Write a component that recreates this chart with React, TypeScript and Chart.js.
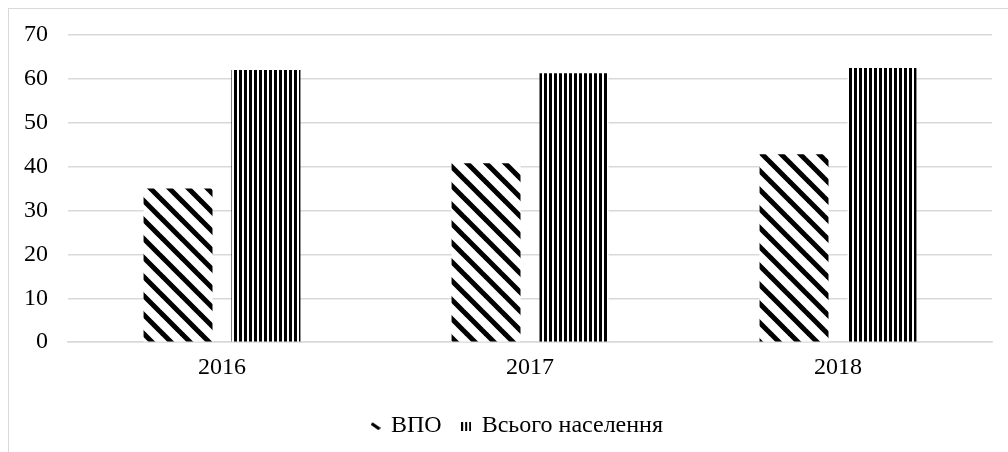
import React, { useEffect, useRef } from "react";
import { Chart, registerables } from "chart.js";

Chart.register(...registerables);

const categories = ["2016", "2017", "2018"];
const vpoValues = [35, 40.8, 42.8];
const totalValues = [62, 61.3, 62.5];
const seriesNames = ["ВПО", "Всього населення"];
const yTicks = [0, 10, 20, 30, 40, 50, 60, 70];

function diagonalPattern(): CanvasPattern | string {
  const size = 19;
  const c = document.createElement("canvas");
  c.width = size;
  c.height = size;
  const ctx = c.getContext("2d");
  if (!ctx) return "#000";
  ctx.fillStyle = "#fff";
  ctx.fillRect(0, 0, size, size);
  ctx.strokeStyle = "#000";
  ctx.lineWidth = 5;
  ctx.lineCap = "square";
  for (let k = -1; k <= 1; k++) {
    ctx.beginPath();
    ctx.moveTo(k * size - 2, -2);
    ctx.lineTo(k * size + size + 2, size + 2);
    ctx.stroke();
  }
  const p = ctx.createPattern(c, "repeat");
  return p || "#000";
}

function verticalPattern(): CanvasPattern | string {
  const c = document.createElement("canvas");
  c.width = 5;
  c.height = 5;
  const ctx = c.getContext("2d");
  if (!ctx) return "#000";
  ctx.fillStyle = "#fff";
  ctx.fillRect(0, 0, 5, 5);
  ctx.fillStyle = "#000";
  ctx.fillRect(0, 0, 3, 5);
  const p = ctx.createPattern(c, "repeat");
  return p || "#000";
}

function diagonalIcon(): HTMLCanvasElement {
  const c = document.createElement("canvas");
  c.width = 10;
  c.height = 8;
  const ctx = c.getContext("2d");
  if (ctx) {
    ctx.strokeStyle = "#000";
    ctx.lineWidth = 3.2;
    ctx.lineCap = "butt";
    ctx.beginPath();
    ctx.moveTo(1, 1.5);
    ctx.lineTo(9, 7);
    ctx.stroke();
  }
  return c;
}

function verticalIcon(): HTMLCanvasElement {
  const c = document.createElement("canvas");
  c.width = 10;
  c.height = 9;
  const ctx = c.getContext("2d");
  if (ctx) {
    ctx.fillStyle = "#000";
    ctx.fillRect(0, 0, 2, 9);
    ctx.fillRect(4, 0, 2, 9);
    ctx.fillRect(8, 0, 2, 9);
  }
  return c;
}

const legendShift = {
  id: "legendShift",
  afterLayout(chart: any) {
    const lg = chart.legend;
    if (lg) {
      lg.left += 17;
      lg.right += 17;
    }
  },
};

export default function App() {
  const ref = useRef<HTMLCanvasElement>(null);

  useEffect(() => {
    let chart: Chart | null = null;
    let cancelled = false;
    const FAMILY = "Liberation Serif";
    const build = () => {
      if (cancelled || !ref.current) return;
      const font = { family: FAMILY, size: 24 };
      chart = new Chart(ref.current, {
        type: "bar",
        plugins: [legendShift],
        data: {
          labels: categories,
          datasets: [
            {
              label: seriesNames[0],
              data: vpoValues,
              backgroundColor: diagonalPattern() as any,
              borderWidth: 0,
              pointStyle: diagonalIcon() as any,
            },
            {
              label: seriesNames[1],
              data: totalValues,
              backgroundColor: verticalPattern() as any,
              borderWidth: 0,
              pointStyle: verticalIcon() as any,
            },
          ],
        },
        options: {
          animation: false,
          responsive: false,
          devicePixelRatio: 1,
          layout: { padding: { top: 26, right: 16, left: 0, bottom: 4 } },
          datasets: {
            bar: { categoryPercentage: 0.571, barPercentage: 0.784 },
          },
          scales: {
            x: {
              grid: { display: false, drawTicks: false },
              border: { display: true, color: "#d9d9d9", width: 1.5 },
              ticks: { color: "#000", font, padding: 11 },
            },
            y: {
              min: 0,
              max: 70,
              afterBuildTicks: (axis: any) => {
                axis.ticks = yTicks.map((v) => ({ value: v }));
              },
              afterFit: (axis: any) => {
                axis.width = 59;
              },
              grid: {
                color: "#d9d9d9",
                lineWidth: 1.5,
                drawTicks: true,
                tickLength: 20,
                tickColor: "rgba(0,0,0,0)",
              },
              border: { display: false },
              ticks: { color: "#000", font, padding: 0 },
            },
          },
          plugins: {
            legend: {
              position: "bottom",
              labels: {
                color: "#000",
                font,
                usePointStyle: true,
                pointStyleWidth: 7,
                boxWidth: 7,
                boxHeight: 8,
                padding: 21,
              },
            },
            tooltip: { enabled: false },
          },
        },
      });
    };
    const fonts: any = (document as any).fonts;
    if (fonts && fonts.load) {
      fonts.load("24px \"" + FAMILY + "\"").then(build, build);
    } else {
      build();
    }
    return () => {
      cancelled = true;
      if (chart) chart.destroy();
    };
  }, []);

  return (
    <div
      style={{
        position: "absolute",
        left: 8,
        top: 8,
        width: 1000,
        height: 444,
        borderTop: "1.5px solid #d9d9d9",
        borderLeft: "1.5px solid #d9d9d9",
        background: "#fff",
        overflow: "hidden",
      }}
    >
      <canvas ref={ref} width={999} height={443} style={{ display: "block" }} />
    </div>
  );
}
